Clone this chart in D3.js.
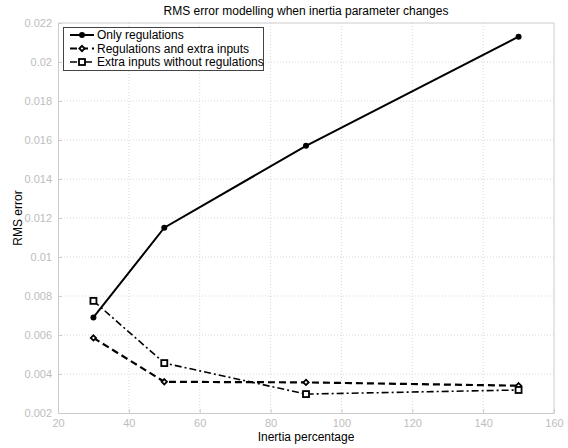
<!DOCTYPE html>
<html>
<head>
<meta charset="utf-8">
<script src="https://cdn.jsdelivr.net/npm/d3@7"></script>
<style>
body { margin: 0; background: #fff; }
text { font-family: "Liberation Sans", Arial, sans-serif; }
</style>
</head>
<body>
<div id="chart"></div>
<script>
// data
var inertia = [30, 50, 90, 150];
var onlyRegs = [0.0069, 0.0115, 0.0157, 0.0213];
var regsExtra = [0.00585, 0.0036, 0.00357, 0.0034];
var extraNoRegs = [0.00775, 0.00456, 0.00297, 0.00318];
var seriesNames = ["Only regulations", "Regulations and extra inputs", "Extra inputs without regulations"];
var xTicks = [20, 40, 60, 80, 100, 120, 140, 160];
var yTicks = [0.002, 0.004, 0.006, 0.008, 0.01, 0.012, 0.014, 0.016, 0.018, 0.02, 0.022];

var w = 568, h = 448;
var pLeft = 58, pRight = 554, pTop = 23, pBottom = 413;

var svg = d3.select("#chart").append("svg")
  .attr("width", w).attr("height", h);

var x = d3.scaleLinear().domain([20, 160]).range([pLeft, pRight]);
var y = d3.scaleLinear().domain([0.002, 0.022]).range([pBottom, pTop]);

// grid
svg.append("g").selectAll("line")
  .data(xTicks.slice(1, -1)).enter().append("line")
  .attr("x1", d => x(d)).attr("x2", d => x(d))
  .attr("y1", pTop).attr("y2", pBottom)
  .attr("stroke", "#d8d8d8").attr("stroke-dasharray", "1,2");
svg.append("g").selectAll("line")
  .data(yTicks.slice(1, -1)).enter().append("line")
  .attr("x1", pLeft).attr("x2", pRight)
  .attr("y1", d => y(d)).attr("y2", d => y(d))
  .attr("stroke", "#d8d8d8").attr("stroke-dasharray", "1,2");

// axes
var xAxis = d3.axisBottom(x).tickValues(xTicks).tickFormat(d3.format("d")).tickSizeInner(-4).tickSizeOuter(0).tickPadding(6);
var yAxis = d3.axisLeft(y).tickValues(yTicks).tickFormat(d => String(+d.toFixed(3))).tickSizeInner(-4).tickSizeOuter(0).tickPadding(6);

var gx = svg.append("g").attr("transform", "translate(0," + pBottom + ")").call(xAxis);
var gy = svg.append("g").attr("transform", "translate(" + pLeft + ",0)").call(yAxis);
[gx, gy].forEach(function(g) {
  g.selectAll("path, line").attr("stroke", "#cccccc");
  g.selectAll("text").attr("fill", "#bdbdbd").style("font-size", "11px")
    .style("font-family", "'Liberation Sans', Arial, sans-serif");
});

// box top/right
svg.append("line").attr("x1", pLeft).attr("x2", pRight).attr("y1", pTop).attr("y2", pTop).attr("stroke", "#cccccc");
svg.append("line").attr("x1", pRight).attr("x2", pRight).attr("y1", pTop).attr("y2", pBottom).attr("stroke", "#cccccc");

// lines
var line = d3.line().x(d => x(d[0])).y(d => y(d[1]));
var series = [
  { vals: onlyRegs, dash: null, width: 2, marker: "circle" },
  { vals: regsExtra, dash: "7,4", width: 2.2, marker: "diamond" },
  { vals: extraNoRegs, dash: "7,3,2,3", width: 1.6, marker: "square" }
];

function drawMarker(g, type, cx, cy) {
  if (type == "circle") {
    g.append("circle").attr("cx", cx).attr("cy", cy).attr("r", 3).attr("fill", "#000");
  } else if (type == "diamond") {
    g.append("path").attr("d", d3.symbol(d3.symbolDiamond2, 18)())
      .attr("transform", "translate(" + cx + "," + cy + ")")
      .attr("fill", "#fff").attr("stroke", "#000").attr("stroke-width", 1.8);
  } else {
    g.append("rect").attr("x", cx - 3).attr("y", cy - 3).attr("width", 6).attr("height", 6)
      .attr("fill", "#fff").attr("stroke", "#000").attr("stroke-width", 1.8);
  }
}

series.forEach(function(s) {
  var pts = inertia.map((v, i) => [v, s.vals[i]]);
  svg.append("path").attr("d", line(pts))
    .attr("fill", "none").attr("stroke", "#000")
    .attr("stroke-width", s.width)
    .attr("stroke-dasharray", s.dash);
  var mg = svg.append("g");
  pts.forEach(p => drawMarker(mg, s.marker, x(p[0]), y(p[1])));
});

// legend
var lg = svg.append("g");
lg.append("rect").attr("x", 63.5).attr("y", 27.5).attr("width", 200).attr("height", 43)
  .attr("fill", "#fff").attr("stroke", "#444").attr("stroke-width", 1);
series.forEach(function(s, i) {
  var ly = 35 + i * 13.5;
  lg.append("line").attr("x1", 70).attr("x2", 94).attr("y1", ly).attr("y2", ly)
    .attr("stroke", "#000").attr("stroke-width", s.width).attr("stroke-dasharray", s.dash);
  drawMarker(lg, s.marker, 82, ly);
  lg.append("text").attr("x", 97).attr("y", ly + 4).text(seriesNames[i])
    .style("font-size", "12px").attr("fill", "#000");
});

// title and labels
svg.append("text").attr("x", (pLeft + pRight) / 2).attr("y", 15).attr("text-anchor", "middle")
  .style("font-size", "12px").text("RMS error modelling when inertia parameter changes");
svg.append("text").attr("x", (pLeft + pRight) / 2).attr("y", 441).attr("text-anchor", "middle")
  .style("font-size", "12px").text("Inertia percentage");
svg.append("text").attr("text-anchor", "middle")
  .attr("transform", "translate(22," + ((pTop + pBottom) / 2) + ")rotate(-90)")
  .style("font-size", "12px").text("RMS error");
</script>
</body>
</html>
